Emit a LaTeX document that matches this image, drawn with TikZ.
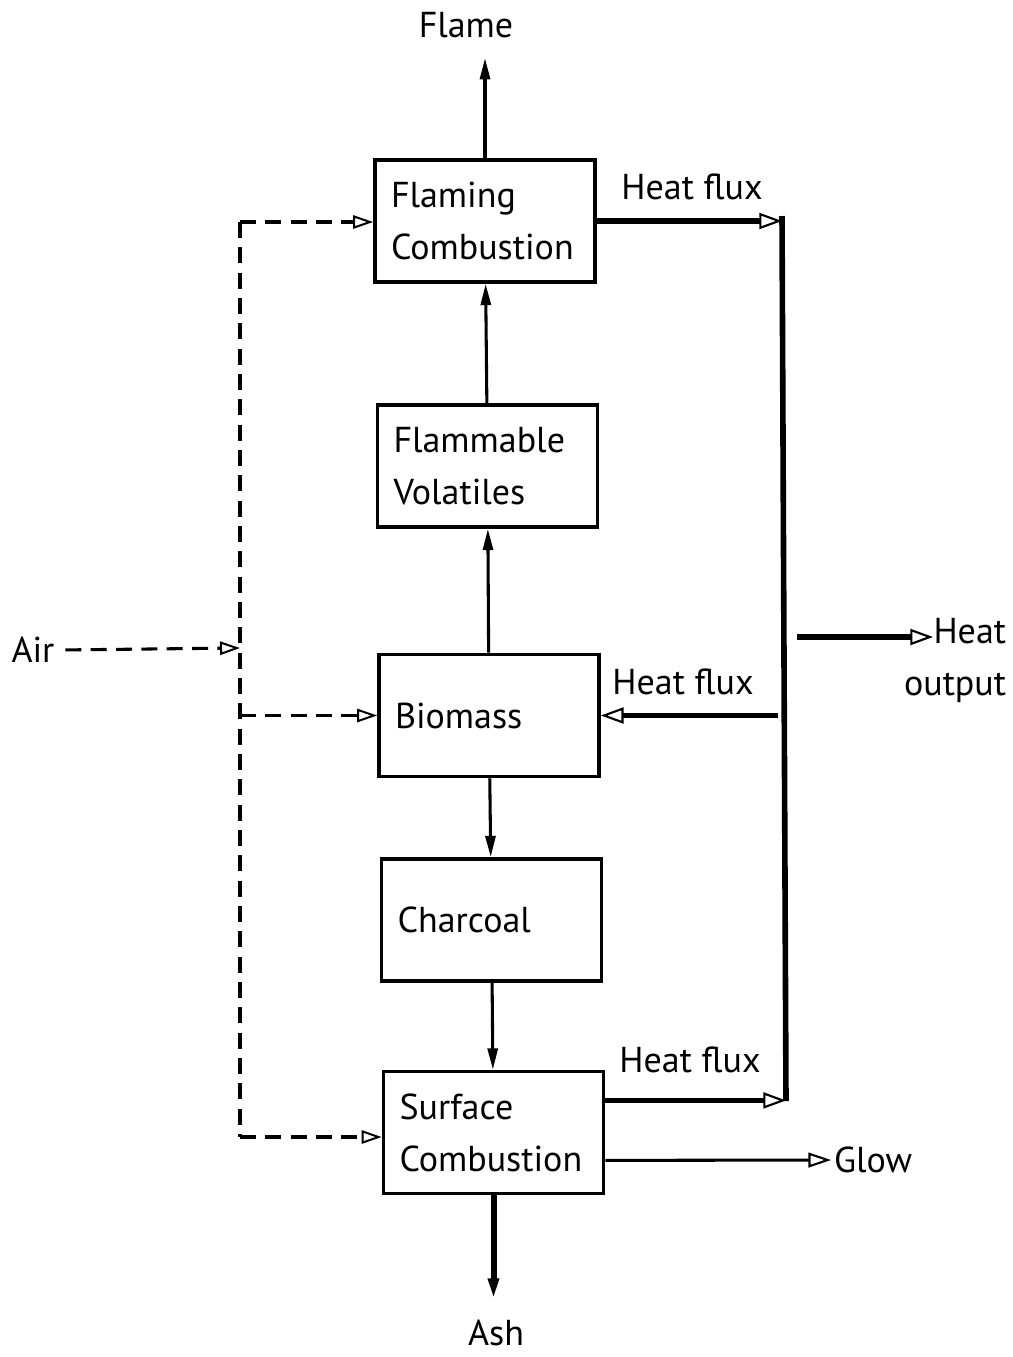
\documentclass[tikz,border=0pt]{standalone}
\usepackage{fontspec}
\setmainfont{PT Sans}
\usetikzlibrary{arrows.meta}

\begin{document}
\begin{tikzpicture}[x=0.75pt, y=-0.75pt,
  font=\fontsize{27}{39}\selectfont,
  box/.style={draw, line width=2.8pt, minimum width=165pt, minimum height=91.5pt,
    text width=141pt, inner xsep=12pt, align=left},
  lbl/.style={inner sep=2pt},
  upar/.style={line width=2.3pt, -{Triangle[length=16pt, width=7.5pt]}},
  airar/.style={line width=2.3pt, dash pattern=on 12pt off 7pt,
    -{Triangle[open, length=15pt, width=10pt, line width=1.5pt]}},
  heatar/.style={line width=4.2pt,
    -{Triangle[open, length=17pt, width=12pt, line width=1.6pt]}},
  thinar/.style={line width=2.3pt,
    -{Triangle[open, length=17pt, width=11pt, line width=1.6pt]}}]
  \useasboundingbox (0,0) rectangle (1013,1357);
  % Kasser i midten
  \node[box] (flam) at (485,221) {Flaming\\Combustion};
  \node[box] (vol) at (487.5,466) {Flammable\\Volatiles};
  \node[box] (bio) at (489,715.5) {Biomass};
  \node[box] (char) at (491.5,920) {Charcoal};
  \node[box] (surf) at (493.5,1132.5) {Surface\\Combustion};
  % Tekster udenfor
  \node[lbl] (flame) at (466,25) {Flame};
  \node[lbl] (ash) at (496,1333) {Ash};
  \node[lbl] (air) at (33,650) {Air};
  \node[lbl] (glow) at (873,1160) {Glow};
  \node[lbl, align=right, anchor=east] (heatout) at (1009,660) {Heat\\output};
  \node[lbl] (hf1) at (692,187) {Heat flux};
  \node[lbl] (hf2) at (683,682) {Heat flux};
  \node[lbl] (hf3) at (690,1060) {Heat flux};
  \coordinate (bustop) at (240,222);
  \coordinate (busbot) at (240,1137);
  \coordinate (airend) at (240,648);
  \coordinate (hftop) at (782,216);
  \coordinate (hfbot) at (786,1101);
  \coordinate (hfout) at (797,637);
  \coordinate (outend) at (933,637);
  % Lodrette pile
  \draw[upar] (flam.north) -- ([yshift=-13pt]flam.north |- flame.south);
  \draw[upar] (vol) -- (flam);
  \draw[upar] (bio) -- (vol);
  \draw[upar] (bio) -- (char);
  \draw[upar] (char) -- (surf);
  \draw[upar, line width=4.5pt] (surf.south) -- ([yshift=13pt]surf.south |- ash.north);
  % Luft (stiplet)
  \draw[airar, shorten <=6pt] (air.east) -- (airend);
  \draw[line width=2.3pt, dash pattern=on 12pt off 7pt] (bustop) -- (busbot);
  \draw[airar] (bustop) -- (bustop -| flam.west);
  \draw[airar] (bustop |- bio.west) -- (bio.west);
  \draw[airar] (busbot) -- (busbot -| surf.west);
  % Varmestroem
  \draw[line width=4.2pt] (hftop) -- (hfbot);
  \draw[heatar] (flam.east) -- (flam.east -| hftop);
  \draw[heatar] ([xshift=-3pt]bio.east -| hftop) -- (bio.east);
  \draw[heatar] (surf.16) -- (surf.16 -| hfbot);
  \draw[heatar] (hfout) -- (outend);
  \draw[thinar] (surf.-14) -- (glow.west);
\end{tikzpicture}
\end{document}
